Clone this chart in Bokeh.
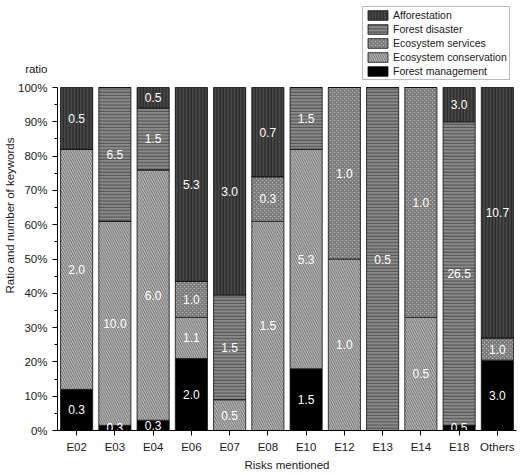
from bokeh.plotting import figure
from bokeh.models import (ColumnDataSource, FactorRange, Range1d, Legend, LegendItem, LinearAxis,
                          PrintfTickFormatter, SingleIntervalTicker, FixedTicker,
                          CustomJSTickFormatter)
from bokeh.core.properties import value
from bokeh.embed import file_html
from bokeh.resources import INLINE

risks = ["E02", "E03", "E04", "E06", "E07", "E08", "E10", "E12", "E13", "E14", "E18", "Others"]
series = ["Forest management", "Ecosystem conservation", "Ecosystem services",
          "Forest disaster", "Afforestation"]

# share (%) of each segment (bottom -> top)
ratio_forest_management = [12, 1.5, 3, 21, 0, 0, 18, 0, 0, 0, 1.5, 20.5]
ratio_ecosystem_conservation = [70, 59.5, 73, 12, 9, 61, 64, 50, 0, 33, 0, 0]
ratio_ecosystem_services = [0, 0, 0, 10.5, 0, 13, 0, 50, 0, 67, 0, 6.5]
ratio_forest_disaster = [0, 39, 18, 0, 30.5, 0, 18, 0, 100, 0, 88.5, 0]
ratio_afforestation = [18, 0, 6, 56.5, 60.5, 26, 0, 0, 0, 0, 10, 73]

# number of keywords written in each segment
count_forest_management = [0.3, 0.3, 0.3, 2.0, None, None, 1.5, None, None, None, 0.5, 3.0]
count_ecosystem_conservation = [2.0, 10.0, 6.0, 1.1, 0.5, 1.5, 5.3, 1.0, None, 0.5, None, None]
count_ecosystem_services = [None, None, None, 1.0, None, 0.3, None, 1.0, None, 1.0, None, 1.0]
count_forest_disaster = [None, 6.5, 1.5, None, 1.5, None, 1.5, None, 0.5, None, 26.5, None]
count_afforestation = [0.5, None, 0.5, 5.3, 3.0, 0.7, None, None, None, None, 3.0, 10.7]

# y tick labels; the axis caption "ratio" sits just above the 100% tick
y_ticks = [0, 10, 20, 30, 40, 50, 60, 70, 80, 90, 100]
ratio_caption_at = 105.5

ratios = [ratio_forest_management, ratio_ecosystem_conservation, ratio_ecosystem_services,
          ratio_forest_disaster, ratio_afforestation]
counts = [count_forest_management, count_ecosystem_conservation, count_ecosystem_services,
          count_forest_disaster, count_afforestation]

FONT = "Liberation Sans"
TXT = "#1a1a1a"

fills = ["#000000", "#c8c8c8", "#c4c4c4", "#8a8a8a", "#464646"]
hatches = [" ", "\\", "x", "-", "|"]
hatch_colors = ["#000000", "#6a6a6a", "#7c7c7c", "#4e4e4e", "#252525"]
hatch_scales = [4, 4.5, 4, 3.2, 3.2]
hatch_weights = [1, 1, 2, 1, 1]

data = {"risk": risks}
for name, r in zip(series, ratios):
    data[name] = r
src = ColumnDataSource(data)

# layout: frame spans the full height above the x axis; 0..100 % occupies its lower 343 px,
# the space above holds the legend and the "ratio" caption
H, BOTTOM, PLOT_PX = 475, 45, 343
frame_px = H - BOTTOM
y_end = 100 * frame_px / PLOT_PX

p = figure(x_range=FactorRange(*risks, range_padding=0), y_range=Range1d(0, y_end),
           width=525, height=H, output_backend="svg", toolbar_location=None,
           min_border_left=57, min_border_right=9, min_border_top=0, min_border_bottom=BOTTOM)
p.outline_line_color = None
p.xgrid.grid_line_color = None
p.ygrid.grid_line_color = None

renderers = p.vbar_stack(series, x="risk", width=0.84, source=src,
                         fill_color=fills, hatch_pattern=hatches, hatch_color=hatch_colors,
                         hatch_scale=hatch_scales, hatch_weight=hatch_weights,
                         line_color="#111111", line_width=0.8)

# value labels at segment centres
lx, ly, lt = [], [], []
for i, rk in enumerate(risks):
    base = 0
    for r, c in zip(ratios, counts):
        if c[i] is not None:
            lx.append(rk)
            ly.append(base + r[i] / 2)
            lt.append("%.1f" % c[i])
        base += r[i]
p.text(x=lx, y=ly, text=lt, text_align="center", text_baseline="middle",
       text_color="white", text_font=value(FONT), text_font_size="12px")

# x axis
xa = p.xaxis[0]
xa.axis_label = "Risks mentioned"
xa.axis_label_standoff = 3
xa.axis_label_text_font = FONT
xa.axis_label_text_font_size = "11.5px"
xa.axis_label_text_font_style = "normal"
xa.axis_label_text_color = TXT
xa.axis_line_color = "#000000"
xa.major_tick_out = 5
xa.major_tick_in = 0
xa.major_label_standoff = 5
xa.major_label_text_font = FONT
xa.major_label_text_font_size = "11.5px"
xa.major_label_text_color = TXT

# inner y axis: line + ticks, 0..100 only
ya = p.yaxis[0]
ya.bounds = (0, 100)
ya.ticker = SingleIntervalTicker(interval=10, num_minor_ticks=2)
ya.formatter = CustomJSTickFormatter(code="return ''")
ya.axis_line_color = "#000000"
ya.major_tick_out = 5
ya.major_tick_in = 0
ya.minor_tick_out = 3
ya.minor_tick_in = 0
ya.major_label_standoff = 0

# middle y axis: tick labels and the "ratio" caption
yl = LinearAxis(ticker=FixedTicker(ticks=y_ticks + [ratio_caption_at]),
                formatter=PrintfTickFormatter(format="%d%%"),
                major_label_overrides={ratio_caption_at: "ratio"})
yl.axis_line_color = None
yl.major_tick_line_color = None
yl.minor_tick_line_color = None
yl.major_tick_out = 0
yl.major_tick_in = 0
yl.major_label_standoff = 5
yl.major_label_text_font = FONT
yl.major_label_text_font_size = "11.5px"
yl.major_label_text_color = TXT
p.add_layout(yl, "left")

# outer y axis: title only
yt = LinearAxis(ticker=FixedTicker(ticks=[]), bounds=(0, 100),
                axis_label="Ratio and number of keywords")
yt.axis_line_color = None
yt.major_tick_line_color = None
yt.minor_tick_line_color = None
yt.major_tick_out = 0
yt.major_tick_in = 0
yt.major_label_standoff = 0
yt.axis_label_standoff = 0
yt.axis_label_text_font = FONT
yt.axis_label_text_font_size = "11.5px"
yt.axis_label_text_font_style = "normal"
yt.axis_label_text_color = TXT
p.add_layout(yt, "left")

items = [LegendItem(label=s, renderers=[r]) for s, r in zip(series, renderers)][::-1]
legend = Legend(items=items, location=(305, frame_px - 80), orientation="vertical",
                glyph_width=25, glyph_height=12, label_height=12, spacing=2,
                padding=2, margin=0, label_standoff=3,
                label_text_font=FONT, label_text_font_size="10.5px",
                label_text_color=TXT, border_line_color="#777777",
                border_line_width=1, background_fill_color="white", background_fill_alpha=1)
p.add_layout(legend)

open("out.html", "w").write(file_html(p, INLINE))
